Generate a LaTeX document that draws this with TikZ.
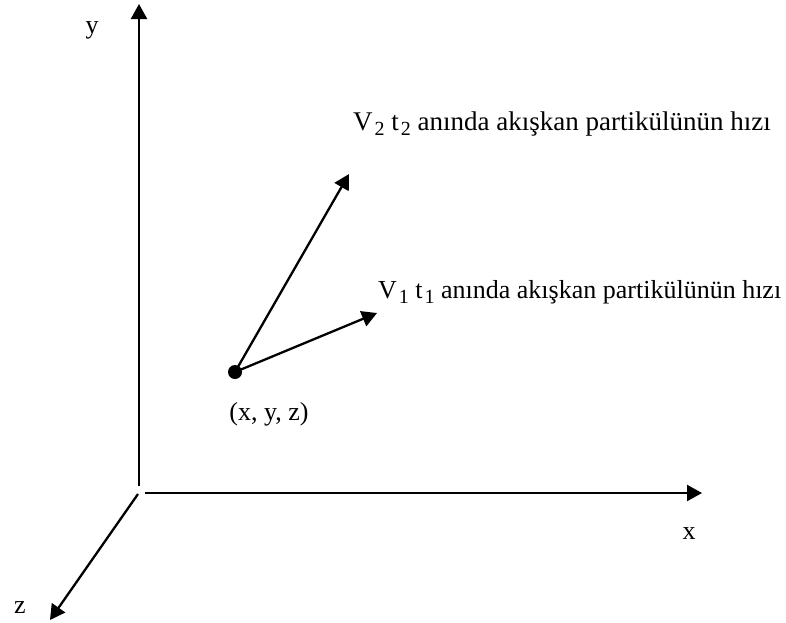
\documentclass[tikz,border=0pt]{standalone}
\usepackage{fontspec}
\setmainfont{Liberation Serif}
\usetikzlibrary{arrows.meta}
\newcommand\sbs[1]{\kern2pt\raisebox{-0.2em}{\fontsize{20}{22}\selectfont #1}}
\begin{document}
\begin{tikzpicture}[x=1pt, y=-1pt, line join=round, line width=2.3pt,
  >={Triangle[length=15pt,width=16pt]},
  lbl/.style={inner sep=0pt, font=\fontsize{26}{30}\selectfont}]
\useasboundingbox (0,0) rectangle (786,622);
% axes
\coordinate (Ox) at (145,493); \coordinate (Xend) at (702,493);
\coordinate (Oy) at (139,486); \coordinate (Yend) at (139,4);
\coordinate (Oz) at (138,494); \coordinate (Zend) at (50,620);
\draw[->] (Ox)--(Xend);
\draw[->] (Oy)--(Yend);
\draw[->] (Oz)--(Zend);
\node[lbl, anchor=base] (xlbl) at (689,539) {x};
\node[lbl, anchor=base] (ylbl) at (92,33) {y};
\node[lbl, anchor=base] (zlbl) at (20,613) {z};
% particle and velocities
\node[circle, fill, inner sep=0pt, minimum size=14pt] (P) at (235,372) {};
\node[lbl, anchor=base] (Plbl) at (269,420) {(x, y, z)};
\coordinate (V2end) at (349,174);
\coordinate (V1end) at (377,313);
\draw[->] (P.center)--(V2end);
\draw[->] (P.center)--(V1end);
\node[lbl, anchor=base west, font=\fontsize{27}{30}\selectfont] (V2lbl) at (352,130) {V\sbs{2} t\sbs{2} anında akışkan partikülünün hızı};
\node[lbl, anchor=base west] (V1lbl) at (377,298) {V\sbs{1} t\sbs{1} anında akışkan partikülünün hızı};
\end{tikzpicture}
\end{document}
